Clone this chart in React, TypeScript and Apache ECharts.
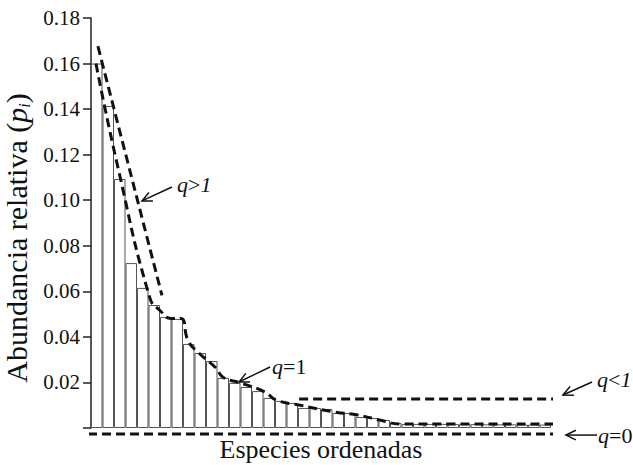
import React, { useEffect, useRef } from "react";
import * as echarts from "echarts";

const species = ["1","2","3","4","5","6","7","8","9","10","11","12","13","14","15","16","17","18","19","20","21","22","23","24","25","26","27","28","29","30","31","32","33","34","35","36","37","38","39","40"];
const abundance = [0.160,0.1414,0.1093,0.0724,0.0615,0.054,0.0487,0.0479,0.0369,0.0329,0.0294,0.022,0.0198,0.018,0.0162,0.0132,0.0119,0.011,0.0088,0.0088,0.0083,0.0066,0.0066,0.0048,0.0044,0.0035,0.0022,0.0018,0.0018,0.0018,0.0018,0.0017,0.0017,0.0017,0.0016,0.0016,0.0016,0.0015,0.0015,0.0015];

// dashed model lines, [rank position, relative abundance]
const lineQGt1 = [[0.6,0.1676],[6.17,0.0582]];
const lineQEq1 = [[0.43,0.160],[2.35,0.1142],[5.13,0.0569],[6.0,0.0516],[6.96,0.0481],[7.83,0.0481],[8.43,0.0385],[9.3,0.0333],[10.87,0.0263],[11.48,0.0223],[13.04,0.0197],[15.13,0.0158],[16.09,0.0123],[18.09,0.0101],[21.2,0.0070],[23.2,0.0057],[25.1,0.0035],[26.9,0.0018],[31.2,0.0018],[40.96,0.0018]];
const lineQLt1 = [[18.1,0.0127],[40.96,0.0127]];
const lineQEq0 = [[-0.26,-0.0026],[40.96,-0.0026]];

// annotations: label, text anchor, arrow start, arrow tip
const annLabels = ["{i|q}>{i|1}", "{i|q}=1", "{i|q}<{i|1}", "{i|q}=0"];
const annText = [[7.48,0.1071],[15.74,0.0268],[44.0,0.0211],[44.09,-0.0031]];
const annFrom = [[7.04,0.1058],[15.57,0.0268],[43.57,0.0202],[44.0,-0.0031]];
const annTo = [[4.43,0.0997],[12.87,0.0202],[41.04,0.0145],[41.3,-0.0031]];

const FONT = "'Liberation Serif', 'DejaVu Serif', serif";

export default function App() {
  const ref = useRef<HTMLDivElement>(null);
  useEffect(() => {
    document.body.style.margin = "0";
    const chart = echarts.init(ref.current!, null, { renderer: "svg" });
    const dash = { color: "#111", width: 3, type: [9, 5] as any };
    const lineSeries = (data: number[][], smooth = false) => ({
      type: "line",
      xAxisIndex: 1,
      yAxisIndex: 0,
      data,
      symbol: "none",
      smooth,
      clip: false,
      z: 5,
      lineStyle: dash,
      silent: true,
    });
    chart.setOption({
      animation: false,
      grid: { left: 91, top: 18, width: 460, height: 410, outerBoundsMode: "none", containLabel: false },
      xAxis: [
        {
          type: "category",
          data: species,
          axisLine: { show: false },
          axisTick: { show: false },
          axisLabel: { show: false },
          name: "Especies ordenadas",
          nameLocation: "middle",
          nameGap: 8,
          nameTextStyle: { fontFamily: FONT, fontSize: 26, lineHeight: 26, color: "#111", verticalAlign: "top" },
        },
        { type: "value", min: 0, max: 40, show: false },
      ],
      yAxis: [
        {
          type: "value",
          min: 0,
          max: 0.18,
          interval: 0.02,
          splitLine: { show: false },
          axisLine: { show: true, lineStyle: { color: "#222", width: 1.5 } },
          axisTick: { show: true, length: 8, lineStyle: { color: "#222", width: 1.5 } },
          axisLabel: {
            margin: 11,
            fontFamily: FONT,
            fontSize: 21,
            color: "#111",
            formatter: (v: number) => (v === 0 ? "" : v.toFixed(2)),
          },
          name: "Abundancia relativa ({p|p}{s|i})",
          nameLocation: "middle",
          nameGap: 52,
          nameRotate: 90,
          nameTextStyle: {
            fontFamily: FONT,
            fontSize: 30,
            color: "#111",
            padding: [0, 30, 0, 0],
            rich: {
              p: { fontFamily: FONT, fontSize: 30, fontStyle: "italic", color: "#111" },
              s: { fontFamily: FONT, fontSize: 16, fontStyle: "italic", color: "#111", padding: [15, 0, 0, 0] },
            },
          },
        },
      ],
      series: [
        {
          type: "bar",
          xAxisIndex: 0,
          yAxisIndex: 0,
          data: abundance,
          barCategoryGap: 0,
          itemStyle: { color: "#fff", borderColor: "#555", borderWidth: 1 },
          silent: true,
        },
        lineSeries(lineQGt1),
        lineSeries(lineQEq1, true),
        lineSeries(lineQLt1),
        lineSeries(lineQEq0),
      ],
    });

    const toPx = (p: number[]) => chart.convertToPixel({ seriesIndex: 1 }, p) as number[];
    const graphics: any[] = [];
    annLabels.forEach((label, k) => {
      const t = toPx(annText[k]);
      const a = toPx(annFrom[k]);
      const b = toPx(annTo[k]);
      const ang = Math.atan2(a[1] - b[1], a[0] - b[0]);
      const L = 11;
      const spread = 0.45;
      graphics.push({
        type: "line",
        shape: { x1: a[0], y1: a[1], x2: b[0], y2: b[1] },
        style: { stroke: "#111", lineWidth: 1.5 },
        silent: true,
      });
      graphics.push({
        type: "polyline",
        shape: {
          points: [
            [b[0] + L * Math.cos(ang + spread), b[1] + L * Math.sin(ang + spread)],
            [b[0], b[1]],
            [b[0] + L * Math.cos(ang - spread), b[1] + L * Math.sin(ang - spread)],
          ],
        },
        style: { stroke: "#111", lineWidth: 1.5, fill: "none" },
        silent: true,
      });
      graphics.push({
        type: "text",
        x: t[0],
        y: t[1],
        style: {
          text: label,
          fontFamily: FONT,
          fontSize: 22,
          fill: "#111",
          verticalAlign: "middle",
          align: "left",
          rich: { i: { fontFamily: FONT, fontSize: 22, fontStyle: "italic", fill: "#111" } },
        },
        silent: true,
      });
    });
    chart.setOption({ graphic: graphics });

    return () => chart.dispose();
  }, []);
  return <div ref={ref} style={{ width: 633, height: 465 }} />;
}
